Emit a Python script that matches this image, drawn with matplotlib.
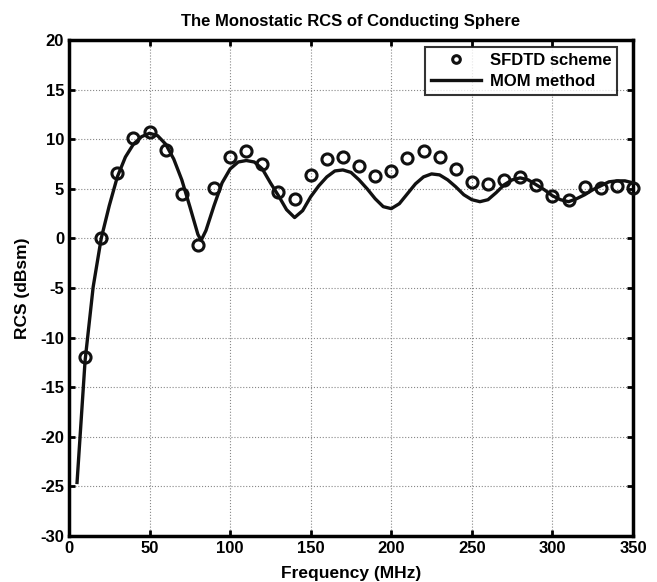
import matplotlib
matplotlib.use("Agg")
import matplotlib.pyplot as plt

plt.rcParams['font.family'] = ['Liberation Sans', 'DejaVu Sans']
plt.rcParams['font.weight'] = 'bold'
plt.rcParams['axes.unicode_minus'] = False

# SFDTD scheme (circles)
sfdtd_freq = [10, 20, 30, 40, 50, 60, 70, 80, 90, 100, 110, 120, 130, 140, 150,
              160, 170, 180, 190, 200, 210, 220, 230, 240, 250, 260, 270, 280,
              290, 300, 310, 320, 330, 340, 350]
sfdtd_rcs = [-12.0, 0.0, 6.55, 10.1, 10.75, 8.95, 4.5, -0.65, 5.05, 8.25, 8.85,
             7.45, 4.65, 3.95, 6.35, 8.05, 8.2, 7.25, 6.25, 6.75, 8.15, 8.85,
             8.25, 6.95, 5.65, 5.5, 5.85, 6.15, 5.35, 4.25, 3.85, 5.15, 5.05,
             5.25, 5.05]

# MOM method (line)
mom_freq = [5, 10, 15, 20, 25, 30, 35, 40, 45, 50, 55, 60, 65, 70, 75, 80, 82,
            85, 90, 95, 100, 105, 110, 115, 120, 125, 130, 135, 140, 145, 150,
            155, 160, 165, 170, 175, 180, 185, 190, 195, 200, 205, 210, 215,
            220, 225, 230, 235, 240, 245, 250, 255, 260, 265, 270, 275, 280,
            285, 290, 295, 300, 305, 310, 315, 320, 325, 330, 335, 340, 345, 350]
mom_rcs = [-24.6, -12.3, -4.9, 0.0, 3.3, 6.2, 8.2, 9.5, 10.25, 10.6, 10.35,
           9.5, 8.0, 5.9, 3.2, 0.4, -0.2, 0.8, 3.3, 5.6, 7.0, 7.7, 7.85, 7.7,
           7.0, 5.6, 4.3, 2.9, 2.1, 2.8, 4.2, 5.3, 6.2, 6.8, 6.9, 6.65, 5.9,
           5.0, 4.0, 3.2, 3.0, 3.5, 4.5, 5.5, 6.2, 6.5, 6.4, 5.9, 5.2, 4.4,
           3.9, 3.7, 3.9, 4.6, 5.4, 5.9, 6.1, 5.9, 5.4, 4.9, 4.3, 3.9, 3.7,
           4.0, 4.4, 4.9, 5.3, 5.7, 5.8, 5.8, 5.6]

xticks = [0, 50, 100, 150, 200, 250, 300, 350]
yticks = [-30, -25, -20, -15, -10, -5, 0, 5, 10, 15, 20]

fig = plt.figure(figsize=(6.57, 5.82), dpi=100)
ax = fig.add_axes([0.105, 0.079, 0.8585, 0.8523])

ax.plot(mom_freq, mom_rcs, '-', color='#111111', lw=2.4, label='MOM method', zorder=3)
ax.plot(sfdtd_freq, sfdtd_rcs, 'o', mfc='none', mec='#111111', mew=2.2, ms=8,
        label='SFDTD scheme', zorder=4, clip_on=False)

ax.set_xlim(0, 350)
ax.set_ylim(-30, 20)
ax.set_xticks(xticks)
ax.set_yticks(yticks)
ax.grid(True, linestyle=':', color='#888888', linewidth=0.8)
for s in ax.spines.values():
    s.set_linewidth(2.5)
ax.tick_params(direction='in', length=4, width=2, labelsize=12, top=True, right=True)
for lab in ax.get_xticklabels() + ax.get_yticklabels():
    lab.set_fontweight('bold')

ax.set_xlabel('Frequency (MHz)', fontsize=12.5, fontweight='bold', labelpad=7)
ax.set_ylabel('RCS (dBsm)', fontsize=12.5, fontweight='bold', labelpad=7)
ax.set_title('The Monostatic RCS of Conducting Sphere', fontsize=12,
             fontweight='bold', pad=10)

handles, labels = ax.get_legend_handles_labels()
leg = ax.legend(handles[::-1], labels[::-1], loc='upper right', fontsize=12,
                frameon=True, fancybox=False, edgecolor='black',
                bbox_to_anchor=(0.9716, 0.985), borderaxespad=0.0,
                handlelength=3.0, handletextpad=0.5, borderpad=0.35,
                labelspacing=0.35)
leg.get_frame().set_linewidth(1.5)
leg.legend_handles[0].set_markersize(5.5)
for t in leg.get_texts():
    t.set_fontweight('bold')

fig.savefig('out.png', dpi=100)
